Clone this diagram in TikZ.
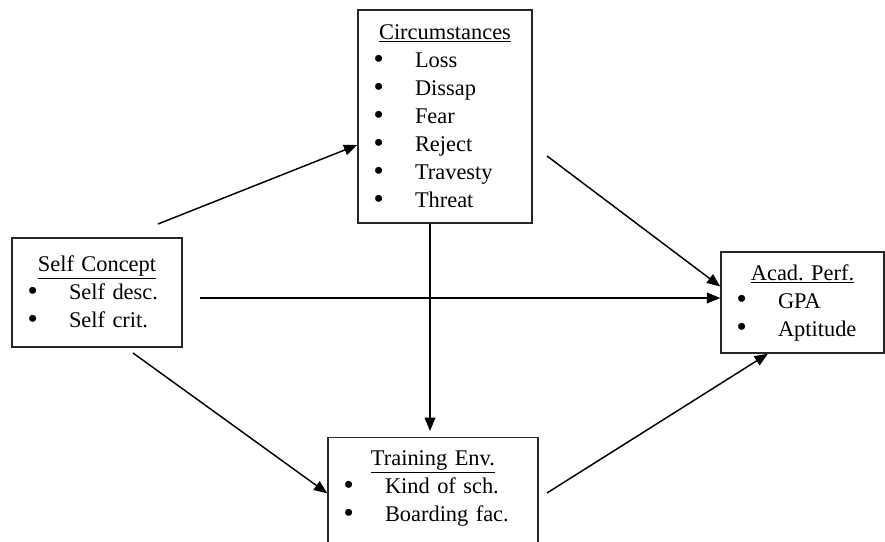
\documentclass[tikz,border=0pt]{standalone}
\usepackage{fontspec}
\setmainfont{Liberation Serif}
\usetikzlibrary{arrows.meta}

\newcommand{\bitem}[1]{\hspace*{1.75pt}\makebox[31pt][l]{\raisebox{-0.6pt}{\scalebox{1.3}{\textbullet}}}#1}
\newcommand{\boxtitle}[1]{\hspace*{\fill}\underline{#1}\hspace*{\fill}\mbox{}}

\begin{document}
\begin{tikzpicture}[
    x=0.75pt, y=-0.75pt,
    font=\fontsize{16.8}{21}\selectfont\frenchspacing,
    block/.style={draw=black!85, line width=1.1pt, align=left, inner xsep=10pt},
    link/.style={line width=1.1pt, -{Triangle[length=10pt,width=8pt]}}
]

\useasboundingbox (0,0) rectangle (885,542);
\clip (0,0) rectangle (885,542);

\node[block, text width=107.5pt, minimum width=127.5pt, minimum height=81.75pt] (self) at (97,292.5)
    {\boxtitle{Self Concept}\\ \bitem{Self desc.}\\ \bitem{Self crit.}};
\node[block, text width=110.5pt, minimum width=130.5pt, minimum height=159.75pt] (circ) at (445,116.5)
    {\boxtitle{Circumstances}\\ \bitem{Loss}\\ \bitem{Dissap}\\ \bitem{Fear}\\ \bitem{Reject}\\ \bitem{Travesty}\\ \bitem{Threat}};
\node[block, text width=102.25pt, minimum width=122.25pt, minimum height=75.75pt] (acad) at (802.5,302.5)
    {\boxtitle{Acad. Perf.}\\ \bitem{GPA}\\ \bitem{Aptitude}};
\node[block, text width=137.5pt, minimum width=157.5pt, anchor=north, inner ysep=9pt, text height=12pt, text depth=90pt] (train) at (433,437)
    {\boxtitle{Training Env.}\\ \bitem{Kind of sch.}\\ \bitem{Boarding fac.}};

% free ends of the arrows
\coordinate (p1) at (158,224);
\coordinate (p2) at (547,156);
\coordinate (p3) at (200,298);
\coordinate (p4) at (430,431);
\coordinate (p5) at (133,353);
\coordinate (p6) at (547,493);

\path[link]
    (p1) edge (circ.198)
    (p2) edge (acad.169)
    (p3) edge (p3 -| acad.west)
    (p4 |- circ.south) edge (p4)
    (p5) edge (train.167)
    (p6) edge (acad.236)
    ;

\end{tikzpicture}
\end{document}
